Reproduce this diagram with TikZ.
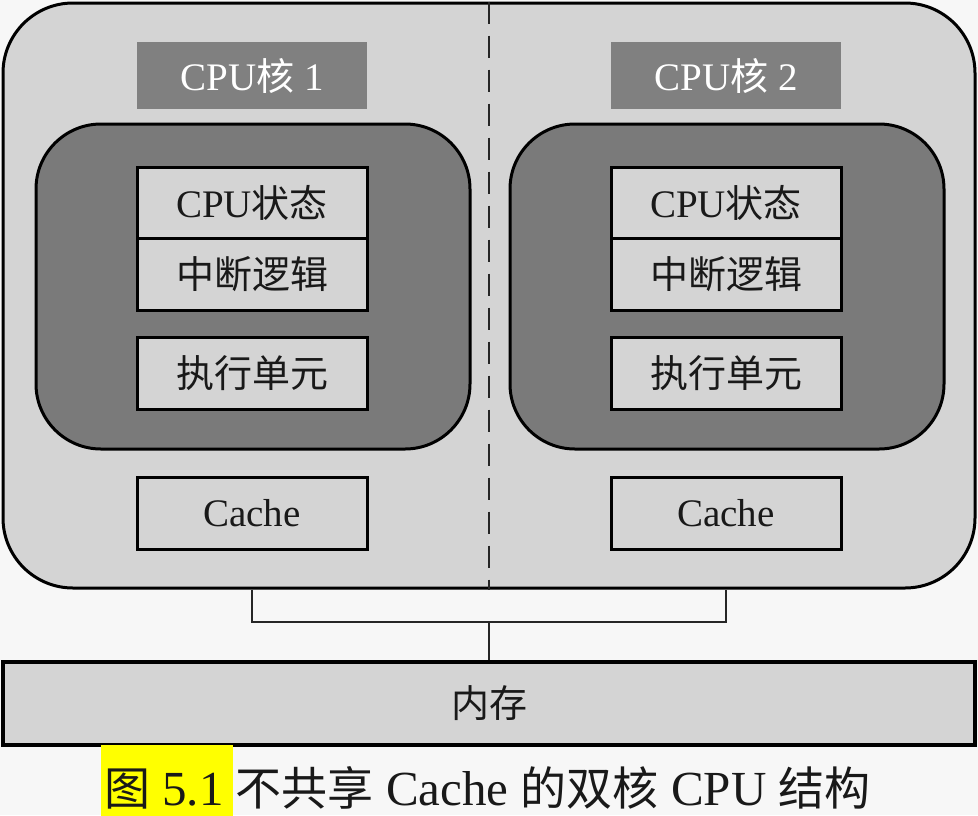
\documentclass[tikz,border=0pt]{standalone}
\usepackage{fontspec}
\setmainfont{Liberation Serif}
\newfontfamily\cjk{Noto Sans CJK SC}
\newcommand{\capcjk}[1]{{\fontsize{46}{48}\selectfont\cjk #1}}
\definecolor{bgcol}{HTML}{F7F7F7}
\definecolor{boxgray}{HTML}{D4D4D4}
\definecolor{darkgray}{HTML}{7A7A7A}
\definecolor{labgray}{HTML}{808080}
\definecolor{hlyellow}{HTML}{FFFF00}
\begin{document}
\begin{tikzpicture}[x=1pt,y=-1pt,
  outerbox/.style={draw=black, line width=3pt, fill=boxgray, rounded corners=70pt,
    minimum width=972pt, minimum height=585pt, inner sep=0pt},
  corebox/.style={draw=black, line width=3pt, fill=darkgray, rounded corners=65pt,
    minimum width=434pt, minimum height=325pt, inner sep=0pt},
  labelbox/.style={fill=labgray, text=white, minimum width=230pt, minimum height=67pt,
    inner sep=0pt, font=\fontsize{39}{40}\selectfont},
  unitbox/.style={draw=black, line width=3pt, fill=boxgray, minimum width=230pt,
    minimum height=72pt, inner sep=0pt, text=black!90, font=\fontsize{39}{40}\selectfont},
  membox/.style={draw=black, line width=4pt, fill=boxgray, minimum width=972pt,
    minimum height=83pt, inner sep=0pt, text=black!90, font=\fontsize{38}{40}\selectfont},
  conn/.style={draw=black!85, line width=1.8pt},
  divider/.style={draw=black!85, line width=2pt, dash pattern=on 22pt off 12pt}
]
\fill[bgcol] (0,0) rectangle (978,815);
\useasboundingbox (0,0) rectangle (978,815);

% outer chip
\node[outerbox] (outer) at (489,295.5) {};
\draw[divider] (outer.north) -- (outer.south);

% core 1
\node[labelbox] (lab1) at (252,75.5) {CPU{\fontsize{38}{40}\selectfont\cjk 核} 1};
\node[corebox] (core1) at (253,286.5) {};
\node[unitbox, minimum height=71pt] (st1) at (252,202.5) {CPU{\fontsize{38}{40}\selectfont\cjk 状态}};
\node[unitbox] (int1) at (252,274) {{\fontsize{38}{40}\selectfont\cjk 中断逻辑}};
\node[unitbox] (ex1) at (252,373) {{\fontsize{38}{40}\selectfont\cjk 执行单元}};
\node[unitbox] (ca1) at (252,513) {Cache};

% core 2
\node[labelbox] (lab2) at (726,75.5) {CPU{\fontsize{38}{40}\selectfont\cjk 核} 2};
\node[corebox] (core2) at (727,286.5) {};
\node[unitbox, minimum height=71pt] (st2) at (726,202.5) {CPU{\fontsize{38}{40}\selectfont\cjk 状态}};
\node[unitbox] (int2) at (726,274) {{\fontsize{38}{40}\selectfont\cjk 中断逻辑}};
\node[unitbox] (ex2) at (726,373) {{\fontsize{38}{40}\selectfont\cjk 执行单元}};
\node[unitbox] (ca2) at (726,513) {Cache};

% memory
\node[membox] (mem) at (489,703) {{\cjk 内存}};

% bus
\coordinate (bus) at (489,622);
\draw[conn] (ca1 |- outer.south) |- (bus) -| (ca2 |- outer.south);
\draw[conn] (bus) -- (mem.north);

% caption
\node[fill=hlyellow, minimum width=132pt, minimum height=72pt, inner sep=0pt] (hl) at (167,781) {};
\node[anchor=base west, inner sep=0pt, text=black!90, font=\fontsize{49}{50}\selectfont] (cap) at (104,805)
  {\capcjk{图} 5.1 \capcjk{不共享} Cache \capcjk{的双核} CPU \capcjk{结构}};
\end{tikzpicture}
\end{document}
